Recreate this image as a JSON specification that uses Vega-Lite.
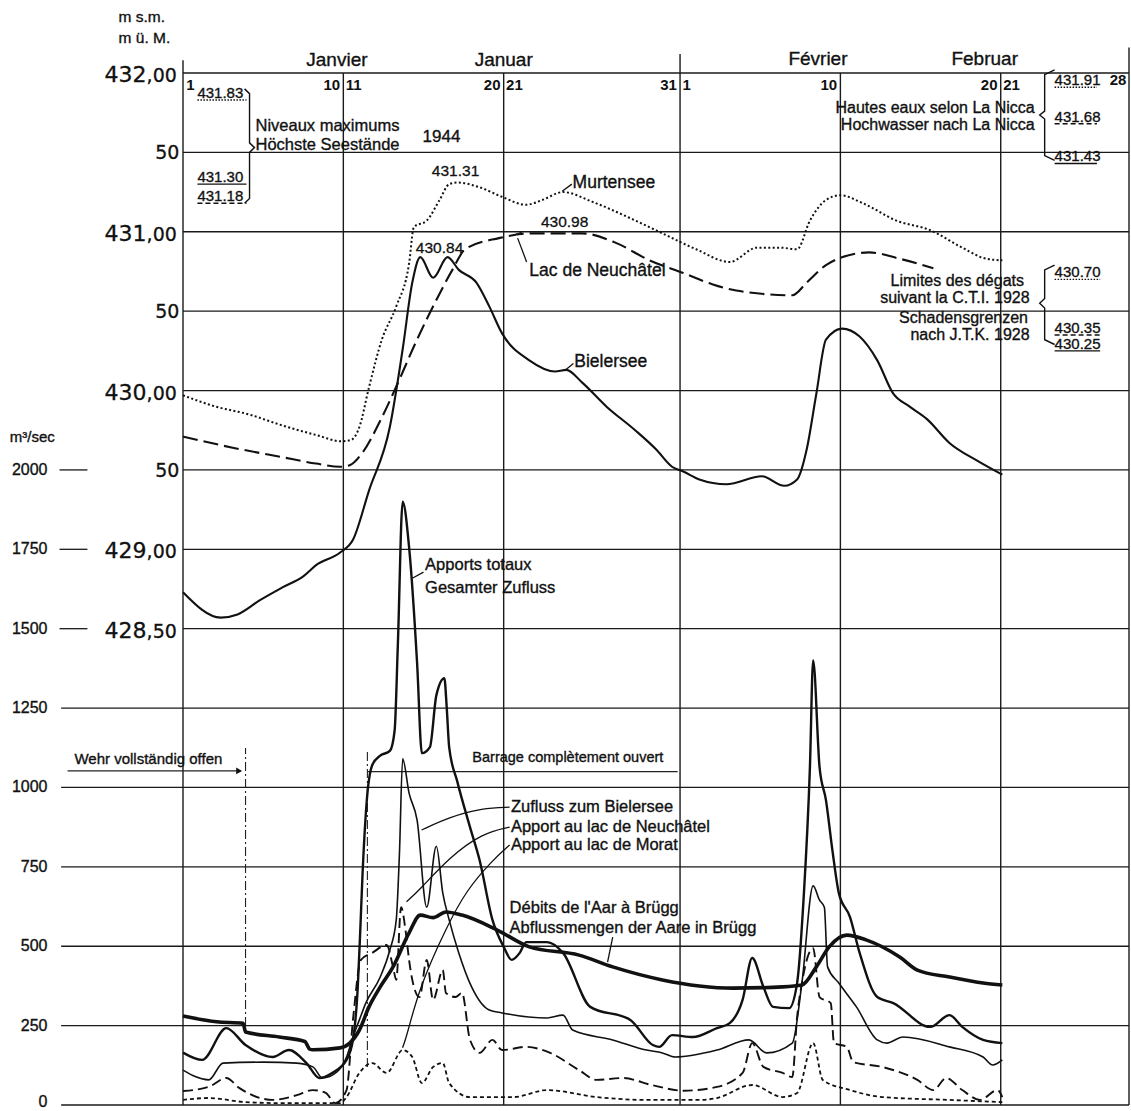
{
"$schema": "https://vega.github.io/schema/vega-lite/v6.json",
"width": 946, "height": 1032,
"autosize": "none",
"padding": {"left": 183, "top": 73, "right": 2, "bottom": 6},
"background": "white",
"config": {"view": {"stroke": null}, "axis": {"grid": false, "domain": false}, "text": {"font": "Liberation Sans", "color": "#111"}},
"datasets": {
"lv": [
{"lake":"mur","day":0,"level":429.97},{"lake":"mur","day":2.0,"level":429.9},{"lake":"mur","day":4.1,"level":429.85},{"lake":"mur","day":6.2,"level":429.78},{"lake":"mur","day":8.3,"level":429.72},{"lake":"mur","day":9.9,"level":429.68},{"lake":"mur","day":10.5,"level":429.69},{"lake":"mur","day":11.0,"level":429.77},{"lake":"mur","day":11.6,"level":430.02},{"lake":"mur","day":12.4,"level":430.32},{"lake":"mur","day":13.3,"level":430.53},{"lake":"mur","day":14.1,"level":430.8},{"lake":"mur","day":14.4,"level":431.03},{"lake":"mur","day":15.2,"level":431.07},{"lake":"mur","day":16.0,"level":431.2},{"lake":"mur","day":16.6,"level":431.3},{"lake":"mur","day":17.1,"level":431.31},{"lake":"mur","day":18.5,"level":431.28},{"lake":"mur","day":19.9,"level":431.22},{"lake":"mur","day":21.4,"level":431.17},{"lake":"mur","day":22.4,"level":431.2},{"lake":"mur","day":23.7,"level":431.25},{"lake":"mur","day":25.5,"level":431.19},{"lake":"mur","day":27.8,"level":431.09},{"lake":"mur","day":29.9,"level":430.99},{"lake":"mur","day":32.0,"level":430.89},{"lake":"mur","day":34.1,"level":430.81},{"lake":"mur","day":35.8,"level":430.9},{"lake":"mur","day":37.2,"level":430.9},{"lake":"mur","day":38.3,"level":430.89},{"lake":"mur","day":39.1,"level":431.07},{"lake":"mur","day":40.1,"level":431.2},{"lake":"mur","day":41.0,"level":431.23},{"lake":"mur","day":42.4,"level":431.18},{"lake":"mur","day":44.5,"level":431.07},{"lake":"mur","day":46.6,"level":431.01},{"lake":"mur","day":48.6,"level":430.9},{"lake":"mur","day":50.1,"level":430.83},{"lake":"mur","day":51.1,"level":430.82},
{"lake":"neu","day":0,"level":429.71},{"lake":"neu","day":3.1,"level":429.64},{"lake":"neu","day":6.2,"level":429.58},{"lake":"neu","day":8.3,"level":429.54},{"lake":"neu","day":9.8,"level":429.52},{"lake":"neu","day":10.4,"level":429.53},{"lake":"neu","day":11.2,"level":429.61},{"lake":"neu","day":12.4,"level":429.83},{"lake":"neu","day":13.5,"level":430.07},{"lake":"neu","day":14.5,"level":430.3},{"lake":"neu","day":15.8,"level":430.57},{"lake":"neu","day":16.8,"level":430.76},{"lake":"neu","day":17.6,"level":430.89},{"lake":"neu","day":19.7,"level":430.96},{"lake":"neu","day":21.8,"level":430.99},{"lake":"neu","day":24.9,"level":430.99},{"lake":"neu","day":27.0,"level":430.93},{"lake":"neu","day":29.1,"level":430.82},{"lake":"neu","day":31.2,"level":430.74},{"lake":"neu","day":33.0,"level":430.67},{"lake":"neu","day":34.5,"level":430.63},{"lake":"neu","day":38.0,"level":430.6},{"lake":"neu","day":38.9,"level":430.68},{"lake":"neu","day":40.1,"level":430.79},{"lake":"neu","day":41.1,"level":430.84},{"lake":"neu","day":42.8,"level":430.87},{"lake":"neu","day":44.7,"level":430.83},{"lake":"neu","day":46.8,"level":430.77},
{"lake":"bie","day":0,"level":428.73},{"lake":"bie","day":2.35,"level":428.57},{"lake":"bie","day":3.4,"level":428.59},{"lake":"bie","day":4.8,"level":428.68},{"lake":"bie","day":6.2,"level":428.76},{"lake":"bie","day":7.5,"level":428.83},{"lake":"bie","day":8.3,"level":428.9},{"lake":"bie","day":9.8,"level":428.98},{"lake":"bie","day":10.6,"level":429.06},{"lake":"bie","day":11.6,"level":429.37},{"lake":"bie","day":12.9,"level":429.77},{"lake":"bie","day":13.7,"level":430.26},{"lake":"bie","day":14.3,"level":430.68},{"lake":"bie","day":14.8,"level":430.84},{"lake":"bie","day":15.6,"level":430.71},{"lake":"bie","day":16.5,"level":430.84},{"lake":"bie","day":17.2,"level":430.76},{"lake":"bie","day":18.3,"level":430.68},{"lake":"bie","day":19.1,"level":430.53},{"lake":"bie","day":19.9,"level":430.36},{"lake":"bie","day":21.6,"level":430.19},{"lake":"bie","day":23.2,"level":430.12},{"lake":"bie","day":23.9,"level":430.13},{"lake":"bie","day":24.9,"level":430.05},{"lake":"bie","day":26.4,"level":429.9},{"lake":"bie","day":28.2,"level":429.75},{"lake":"bie","day":29.5,"level":429.63},{"lake":"bie","day":30.5,"level":429.52},{"lake":"bie","day":31.2,"level":429.49},{"lake":"bie","day":32.2,"level":429.44},{"lake":"bie","day":33.9,"level":429.41},{"lake":"bie","day":36.1,"level":429.46},{"lake":"bie","day":37.5,"level":429.4},{"lake":"bie","day":38.3,"level":429.44},{"lake":"bie","day":38.9,"level":429.63},{"lake":"bie","day":39.5,"level":429.98},{"lake":"bie","day":40.1,"level":430.32},{"lake":"bie","day":41.1,"level":430.39},{"lake":"bie","day":42.2,"level":430.34},{"lake":"bie","day":43.3,"level":430.19},{"lake":"bie","day":44.3,"level":429.98},{"lake":"bie","day":45.3,"level":429.9},{"lake":"bie","day":46.4,"level":429.82},{"lake":"bie","day":47.8,"level":429.67},{"lake":"bie","day":49.5,"level":429.56},{"lake":"bie","day":51.1,"level":429.47}
],
"fl": [
{"s":"aar","day":0,"flow":280},{"s":"aar","day":2.1,"flow":262},{"s":"aar","day":3.75,"flow":257},{"s":"aar","day":3.9,"flow":230},{"s":"aar","day":6.0,"flow":214},{"s":"aar","day":7.6,"flow":200},{"s":"aar","day":7.9,"flow":176},{"s":"aar","day":8.1,"flow":174},{"s":"aar","day":9.8,"flow":180},{"s":"aar","day":10.4,"flow":195},{"s":"aar","day":11.0,"flow":236},{"s":"aar","day":11.6,"flow":309},{"s":"aar","day":12.3,"flow":372},{"s":"aar","day":13.1,"flow":435},{"s":"aar","day":14.1,"flow":542},{"s":"aar","day":14.8,"flow":598},{"s":"aar","day":15.6,"flow":590},{"s":"aar","day":16.4,"flow":608},{"s":"aar","day":17.4,"flow":598},{"s":"aar","day":19.6,"flow":551},{"s":"aar","day":21.6,"flow":498},{"s":"aar","day":24.7,"flow":472},{"s":"aar","day":26.8,"flow":435},{"s":"aar","day":29.9,"flow":394},{"s":"aar","day":32.2,"flow":375},{"s":"aar","day":34.3,"flow":368},{"s":"aar","day":37.4,"flow":372},{"s":"aar","day":38.6,"flow":378},{"s":"aar","day":39.5,"flow":435},{"s":"aar","day":40.3,"flow":498},{"s":"aar","day":41.4,"flow":535},{"s":"aar","day":42.6,"flow":520},{"s":"aar","day":44.7,"flow":466},{"s":"aar","day":45.8,"flow":425},{"s":"aar","day":47.8,"flow":403},{"s":"aar","day":49.9,"flow":384},{"s":"aar","day":51.1,"flow":378},
{"s":"tot","day":0,"flow":165},{"s":"tot","day":1.2,"flow":142},{"s":"tot","day":2.7,"flow":242},{"s":"tot","day":3.9,"flow":189},{"s":"tot","day":5.6,"flow":151},{"s":"tot","day":6.6,"flow":173},{"s":"tot","day":7.7,"flow":132},{"s":"tot","day":8.5,"flow":85},{"s":"tot","day":9.3,"flow":101},{"s":"tot","day":10.2,"flow":142},{"s":"tot","day":10.6,"flow":205},{"s":"tot","day":10.9,"flow":372},{"s":"tot","day":11.05,"flow":542},{"s":"tot","day":11.2,"flow":730},{"s":"tot","day":11.45,"flow":951},{"s":"tot","day":11.8,"flow":1070},{"s":"tot","day":12.3,"flow":1100},{"s":"tot","day":12.9,"flow":1115},{"s":"tot","day":13.2,"flow":1180},{"s":"tot","day":13.4,"flow":1450},{"s":"tot","day":13.7,"flow":1900},{"s":"tot","day":14.1,"flow":1757},{"s":"tot","day":14.6,"flow":1392},{"s":"tot","day":14.9,"flow":1108},{"s":"tot","day":15.4,"flow":1127},{"s":"tot","day":15.8,"flow":1290},{"s":"tot","day":16.3,"flow":1344},{"s":"tot","day":16.45,"flow":1250},{"s":"tot","day":16.6,"flow":1127},{"s":"tot","day":17.1,"flow":1020},{"s":"tot","day":17.9,"flow":875},{"s":"tot","day":18.5,"flow":771},{"s":"tot","day":19.3,"flow":583},{"s":"tot","day":20.0,"flow":498},{"s":"tot","day":20.5,"flow":457},{"s":"tot","day":21.0,"flow":479},{"s":"tot","day":21.4,"flow":513},{"s":"tot","day":22.7,"flow":513},{"s":"tot","day":23.7,"flow":479},{"s":"tot","day":25.4,"flow":309},{"s":"tot","day":27.9,"flow":268},{"s":"tot","day":29.3,"flow":189},{"s":"tot","day":29.7,"flow":183},{"s":"tot","day":30.5,"flow":220},{"s":"tot","day":31.8,"flow":214},{"s":"tot","day":33.3,"flow":242},{"s":"tot","day":34.1,"flow":258},{"s":"tot","day":34.9,"flow":331},{"s":"tot","day":35.5,"flow":463},{"s":"tot","day":36.2,"flow":372},{"s":"tot","day":36.8,"flow":309},{"s":"tot","day":37.8,"flow":305},{"s":"tot","day":38.3,"flow":384},{"s":"tot","day":38.7,"flow":645},{"s":"tot","day":39.1,"flow":1064},{"s":"tot","day":39.3,"flow":1400},{"s":"tot","day":39.7,"flow":1064},{"s":"tot","day":40.1,"flow":960},{"s":"tot","day":40.5,"flow":803},{"s":"tot","day":40.9,"flow":668},{"s":"tot","day":41.6,"flow":592},{"s":"tot","day":42.2,"flow":479},{"s":"tot","day":43.3,"flow":340},{"s":"tot","day":44.3,"flow":321},{"s":"tot","day":46.6,"flow":246},{"s":"tot","day":47.8,"flow":283},{"s":"tot","day":48.6,"flow":246},{"s":"tot","day":49.9,"flow":205},{"s":"tot","day":51.1,"flow":195},
{"s":"bie","day":0,"flow":110},{"s":"bie","day":1.6,"flow":79},{"s":"bie","day":2.5,"flow":132},{"s":"bie","day":5.0,"flow":135},{"s":"bie","day":7.1,"flow":132},{"s":"bie","day":8.1,"flow":120},{"s":"bie","day":8.7,"flow":85},{"s":"bie","day":9.6,"flow":104},{"s":"bie","day":10.2,"flow":151},{"s":"bie","day":10.6,"flow":214},{"s":"bie","day":11.0,"flow":268},{"s":"bie","day":11.4,"flow":321},{"s":"bie","day":12.3,"flow":403},{"s":"bie","day":12.9,"flow":488},{"s":"bie","day":13.3,"flow":583},{"s":"bie","day":13.5,"flow":793},{"s":"bie","day":13.7,"flow":1090},{"s":"bie","day":14.1,"flow":982},{"s":"bie","day":14.6,"flow":897},{"s":"bie","day":15.2,"flow":623},{"s":"bie","day":15.8,"flow":815},{"s":"bie","day":16.2,"flow":668},{"s":"bie","day":16.6,"flow":583},{"s":"bie","day":17.2,"flow":479},{"s":"bie","day":18.0,"flow":372},{"s":"bie","day":19.1,"flow":299},{"s":"bie","day":19.9,"flow":290},{"s":"bie","day":22.7,"flow":274},{"s":"bie","day":23.7,"flow":283},{"s":"bie","day":24.3,"flow":236},{"s":"bie","day":26.8,"flow":205},{"s":"bie","day":28.9,"flow":173},{"s":"bie","day":29.9,"flow":164},{"s":"bie","day":30.7,"flow":151},{"s":"bie","day":33.3,"flow":173},{"s":"bie","day":35.3,"flow":205},{"s":"bie","day":36.4,"flow":164},{"s":"bie","day":38.0,"flow":195},{"s":"bie","day":38.6,"flow":384},{"s":"bie","day":39.3,"flow":690},{"s":"bie","day":39.7,"flow":645},{"s":"bie","day":40.0,"flow":623},{"s":"bie","day":40.2,"flow":435},{"s":"bie","day":40.9,"flow":384},{"s":"bie","day":42.0,"flow":309},{"s":"bie","day":43.3,"flow":205},{"s":"bie","day":43.9,"flow":195},{"s":"bie","day":44.9,"flow":214},{"s":"bie","day":47.8,"flow":183},{"s":"bie","day":49.9,"flow":151},{"s":"bie","day":50.5,"flow":126},{"s":"bie","day":51.1,"flow":142},
{"s":"neu","day":0,"flow":44},{"s":"neu","day":1.6,"flow":57},{"s":"neu","day":2.7,"flow":85},{"s":"neu","day":3.5,"flow":54},{"s":"neu","day":5.6,"flow":16},{"s":"neu","day":7.1,"flow":31},{"s":"neu","day":8.1,"flow":47},{"s":"neu","day":8.9,"flow":38},{"s":"neu","day":9.5,"flow":6},{"s":"neu","day":10.2,"flow":47},{"s":"neu","day":10.6,"flow":268},{"s":"neu","day":11.1,"flow":457},{"s":"neu","day":11.8,"flow":479},{"s":"neu","day":12.7,"flow":504},{"s":"neu","day":13.1,"flow":435},{"s":"neu","day":13.3,"flow":394},{"s":"neu","day":13.6,"flow":623},{"s":"neu","day":13.9,"flow":542},{"s":"neu","day":14.1,"flow":457},{"s":"neu","day":14.3,"flow":394},{"s":"neu","day":14.75,"flow":340},{"s":"neu","day":15.2,"flow":457},{"s":"neu","day":15.6,"flow":331},{"s":"neu","day":16.2,"flow":425},{"s":"neu","day":16.4,"flow":353},{"s":"neu","day":17.0,"flow":340},{"s":"neu","day":17.4,"flow":353},{"s":"neu","day":17.9,"flow":205},{"s":"neu","day":18.5,"flow":164},{"s":"neu","day":19.3,"flow":205},{"s":"neu","day":19.9,"flow":173},{"s":"neu","day":21.4,"flow":183},{"s":"neu","day":22.9,"flow":164},{"s":"neu","day":24.7,"flow":110},{"s":"neu","day":25.8,"flow":79},{"s":"neu","day":27.4,"flow":85},{"s":"neu","day":29.3,"flow":62},{"s":"neu","day":31.2,"flow":45},{"s":"neu","day":33.3,"flow":57},{"s":"neu","day":34.9,"flow":101},{"s":"neu","day":35.5,"flow":195},{"s":"neu","day":36.2,"flow":120},{"s":"neu","day":37.4,"flow":101},{"s":"neu","day":38.0,"flow":88},{"s":"neu","day":38.3,"flow":277},{"s":"neu","day":38.6,"flow":384},{"s":"neu","day":39.3,"flow":494},{"s":"neu","day":39.7,"flow":340},{"s":"neu","day":40.4,"flow":321},{"s":"neu","day":40.6,"flow":195},{"s":"neu","day":41.4,"flow":183},{"s":"neu","day":41.8,"flow":135},{"s":"neu","day":43.6,"flow":120},{"s":"neu","day":45.8,"flow":79},{"s":"neu","day":46.8,"flow":47},{"s":"neu","day":47.6,"flow":85},{"s":"neu","day":48.6,"flow":47},{"s":"neu","day":49.7,"flow":16},{"s":"neu","day":50.8,"flow":47},{"s":"neu","day":51.1,"flow":25},
{"s":"mor","day":0,"flow":16},{"s":"mor","day":1.6,"flow":22},{"s":"mor","day":3.9,"flow":9},{"s":"mor","day":6.0,"flow":6},{"s":"mor","day":9.8,"flow":6},{"s":"mor","day":10.2,"flow":25},{"s":"mor","day":11.0,"flow":101},{"s":"mor","day":11.8,"flow":132},{"s":"mor","day":12.7,"flow":101},{"s":"mor","day":13.7,"flow":173},{"s":"mor","day":14.3,"flow":151},{"s":"mor","day":14.9,"flow":69},{"s":"mor","day":15.6,"flow":120},{"s":"mor","day":16.2,"flow":132},{"s":"mor","day":16.6,"flow":69},{"s":"mor","day":17.9,"flow":25},{"s":"mor","day":20.6,"flow":25},{"s":"mor","day":22.7,"flow":47},{"s":"mor","day":25.8,"flow":25},{"s":"mor","day":28.9,"flow":16},{"s":"mor","day":32.2,"flow":16},{"s":"mor","day":33.3,"flow":22},{"s":"mor","day":35.5,"flow":63},{"s":"mor","day":37.4,"flow":25},{"s":"mor","day":38.3,"flow":38},{"s":"mor","day":39.3,"flow":195},{"s":"mor","day":39.9,"flow":79},{"s":"mor","day":41.6,"flow":47},{"s":"mor","day":43.6,"flow":25},{"s":"mor","day":47.8,"flow":16},{"s":"mor","day":51.1,"flow":9}
],
"gl": [{"flow":1500},{"flow":1750},{"flow":2000},{"flow":2250},{"flow":2500},{"flow":2750},{"flow":3000},{"flow":3250}],
"gf": [{"flow":0,"d1":-7.6,"d2":59},{"flow":250,"d1":-7.6,"d2":59},{"flow":500,"d1":-7.6,"d2":59},{"flow":750,"d1":-7.6,"d2":59},{"flow":1000,"d1":-7.6,"d2":59},{"flow":1250,"d1":-7.6,"d2":59},{"flow":1500,"d1":-7.7,"d2":-5.96},{"flow":1750,"d1":-7.7,"d2":-5.96},{"flow":2000,"d1":-7.7,"d2":-5.96}],
"ylab": [{"flow":0,"day":-8.45},{"flow":250,"day":-8.45},{"flow":500,"day":-8.45},{"flow":750,"day":-8.45},{"flow":1000,"day":-8.45},{"flow":1250,"day":-8.45},{"flow":1500,"day":-8.45},{"flow":1750,"day":-8.45},{"flow":2000,"day":-8.45}],
"vl": [{"day":0,"bot":0,"top":3290},{"day":10,"bot":0,"top":3250},{"day":20,"bot":0,"top":3250},{"day":31,"bot":0,"top":3310},{"day":41,"bot":0,"top":3250},{"day":51,"bot":0,"top":3250},{"day":59,"bot":0,"top":3330}],
"dd": [{"day":3.9,"flow":249,"flow2":1124},{"day":11.5,"flow":120,"flow2":1118}],
"hl": [{"day":-7.2,"day2":3.6,"flow":1052},{"day":11.5,"day2":30.85,"flow":1050}],
"ah": [{"day":3.5,"flow":1052}],
"fld": [
{"a":"t","o":1,"day":15.0,"flow":1678},{"a":"t","o":2,"day":14.3,"flow":1659},
{"a":"z","o":1,"day":20.37,"flow":938},{"a":"z","o":2,"day":18.68,"flow":935},{"a":"z","o":3,"day":16.63,"flow":907},{"a":"z","o":4,"day":14.88,"flow":866},
{"a":"n","o":1,"day":20.37,"flow":875},{"a":"n","o":2,"day":18.68,"flow":856},{"a":"n","o":3,"day":16.63,"flow":781},{"a":"n","o":4,"day":14.75,"flow":677},{"a":"n","o":5,"day":13.94,"flow":640},
{"a":"m","o":1,"day":20.37,"flow":819},{"a":"m","o":2,"day":19.31,"flow":771},{"a":"m","o":3,"day":17.68,"flow":677},{"a":"m","o":4,"day":16.43,"flow":560},{"a":"m","o":5,"day":14.75,"flow":372},{"a":"m","o":6,"day":13.94,"flow":214},{"a":"m","o":7,"day":13.69,"flow":180},
{"a":"d","o":1,"day":26.8,"flow":529},{"a":"d","o":2,"day":26.48,"flow":450}
],
"ft16": [{"t":"Apports totaux","day":15.1,"flow":1700},{"t":"Gesamter Zufluss","day":15.1,"flow":1628},{"t":"Zufluss zum Bielersee","day":20.45,"flow":938},{"t":"Apport au lac de Neuchâtel","day":20.45,"flow":875},{"t":"Apport au lac de Morat","day":20.45,"flow":819},{"t":"Débits de l'Aar à Brügg","day":20.37,"flow":620},{"t":"Abflussmengen der Aare in Brügg","day":20.37,"flow":557}],
"ft15": [{"t":"Wehr vollständig offen","day":-6.77,"flow":1089},{"t":"m³/sec","day":-10.8,"flow":2103}],
"ft15c": [{"t":"Barrage complètement ouvert","day":24.0,"flow":1093}],
"ul": [
{"lake":"mur","day":0.9,"day2":3.96,"level":431.83},{"lake":"bie","day":0.9,"day2":3.96,"level":431.3},{"lake":"neu","day":0.9,"day2":3.96,"level":431.18},
{"lake":"mur","day":54.36,"day2":57.0,"level":431.91},{"lake":"neu","day":54.36,"day2":57.0,"level":431.68},{"lake":"bie","day":54.36,"day2":57.0,"level":431.43},
{"lake":"mur","day":54.36,"day2":57.2,"level":430.7},{"lake":"neu","day":54.36,"day2":57.2,"level":430.35},{"lake":"bie","day":54.36,"day2":57.2,"level":430.25}
],
"refn": [{"t":"431.83","day":0.9,"level":431.875},{"t":"431.30","day":0.9,"level":431.345},{"t":"431.18","day":0.9,"level":431.225},{"t":"431.91","day":54.36,"level":431.955},{"t":"431.68","day":54.36,"level":431.725},{"t":"431.43","day":54.36,"level":431.475},{"t":"430.70","day":54.36,"level":430.745},{"t":"430.35","day":54.36,"level":430.395},{"t":"430.25","day":54.36,"level":430.295}],
"peaks": [{"t":"431.31","day":17.0,"level":431.38},{"t":"430.84","day":16.0,"level":430.9},{"t":"430.98","day":23.8,"level":431.06}],
"br": [
{"b":"l","o":1,"day":3.84,"level":431.9},{"b":"l","o":2,"day":4.15,"level":431.87},{"b":"l","o":3,"day":4.15,"level":431.56},{"b":"l","o":4,"day":4.46,"level":431.53},{"b":"l","o":5,"day":4.15,"level":431.5},{"b":"l","o":6,"day":4.15,"level":431.21},{"b":"l","o":7,"day":3.84,"level":431.18},
{"b":"r1","o":1,"day":54.36,"level":432.02},{"b":"r1","o":2,"day":53.74,"level":431.99},{"b":"r1","o":3,"day":53.74,"level":431.76},{"b":"r1","o":4,"day":53.43,"level":431.735},{"b":"r1","o":5,"day":53.74,"level":431.71},{"b":"r1","o":6,"day":53.74,"level":431.48},{"b":"r1","o":7,"day":54.36,"level":431.45},
{"b":"r2","o":1,"day":54.36,"level":430.79},{"b":"r2","o":2,"day":53.74,"level":430.76},{"b":"r2","o":3,"day":53.74,"level":430.58},{"b":"r2","o":4,"day":53.43,"level":430.55},{"b":"r2","o":5,"day":53.74,"level":430.52},{"b":"r2","o":6,"day":53.74,"level":430.32},{"b":"r2","o":7,"day":54.36,"level":430.29}
],
"ll": [
{"a":"m","o":1,"day":24.25,"level":431.3},{"a":"m","o":2,"day":23.65,"level":431.255},
{"a":"n","o":1,"day":21.43,"level":430.81},{"a":"n","o":2,"day":20.87,"level":430.96},
{"a":"n2","o":1,"day":20.55,"level":430.975},{"a":"n2","o":2,"day":21.18,"level":431.0},
{"a":"b","o":1,"day":24.35,"level":430.17},{"a":"b","o":2,"day":23.85,"level":430.13}
],
"tMain": [{"t":"432","day":-2.27,"level":432},{"t":"431","day":-2.27,"level":431},{"t":"430","day":-2.27,"level":430},{"t":"429","day":-2.27,"level":429},{"t":"428","day":-2.27,"level":428.5}],
"tSuf": [{"t":",00","day":-2.27,"level":432},{"t":",00","day":-2.27,"level":431},{"t":",00","day":-2.27,"level":430},{"t":",00","day":-2.27,"level":429},{"t":",50","day":-2.27,"level":428.5}],
"tFifty": [{"t":"50","day":-0.22,"level":431.5},{"t":"50","day":-0.22,"level":430.5},{"t":"50","day":-0.22,"level":429.5}],
"dayL": [{"t":"1","day":0.2,"level":431.925},{"t":"11","day":10.15,"level":431.925},{"t":"21","day":20.15,"level":431.925},{"t":"1","day":31.15,"level":431.925},{"t":"21","day":51.15,"level":431.925},{"t":"28","day":57.8,"level":431.955}],
"dayR": [{"t":"10","day":9.8,"level":431.925},{"t":"20","day":19.8,"level":431.925},{"t":"31","day":30.8,"level":431.925},{"t":"10","day":40.8,"level":431.925},{"t":"20","day":50.8,"level":431.925}],
"months": [{"t":"Janvier","day":9.6,"level":432.085},{"t":"Januar","day":20.0,"level":432.085},{"t":"Février","day":39.6,"level":432.09},{"t":"Februar","day":50.0,"level":432.09}],
"curveL": [{"t":"Murtensee","day":24.3,"level":431.31},{"t":"Lac de Neuchâtel","day":21.6,"level":430.75},{"t":"Bielersee","day":24.4,"level":430.18}],
"annL": [{"t":"Niveaux maximums","day":4.52,"level":431.665},{"t":"Höchste Seestände","day":4.52,"level":431.545}],
"units": [{"t":"m s.m.","day":-4.02,"level":432.35},{"t":"m ü. M.","day":-4.02,"level":432.22}],
"y1944": [{"t":"1944","day":14.94,"level":431.6}],
"annR": [{"t":"Hautes eaux selon La Nicca","day":53.12,"level":431.78},{"t":"Hochwasser nach La Nicca","day":53.12,"level":431.67}],
"annR2": [{"t":"Limites des dégats","day":52.45,"level":430.69},{"t":"suivant la C.T.I. 1928","day":52.8,"level":430.585},{"t":"Schadensgrenzen","day":52.7,"level":430.46},{"t":"nach J.T.K. 1928","day":52.8,"level":430.35}]
},
"resolve": {"scale": {"y": "independent"}},
"layer": [
{
"layer": [
{"data": {"name": "gl"}, "mark": {"type": "rule", "color": "#1a1a1a", "strokeWidth": 1.3},
 "encoding": {"y": {"field": "flow", "type": "quantitative", "scale": {"domain": [0, 3250], "nice": false, "zero": false}, "axis": null}}},
{"data": {"name": "gf"}, "mark": {"type": "rule", "color": "#1a1a1a", "strokeWidth": 1.3},
 "encoding": {"x": {"field": "d1", "type": "quantitative", "scale": {"domain": [0, 59], "nice": false, "zero": false}, "axis": null}, "x2": {"field": "d2"},
  "y": {"field": "flow", "type": "quantitative", "scale": {"domain": [0, 3250], "nice": false, "zero": false}, "axis": null}}},
{"data": {"name": "ylab"}, "transform": [{"filter": "datum.flow > 0"}], "mark": {"type": "text", "align": "right", "baseline": "middle", "font": "Liberation Sans", "fontSize": 16, "color": "#111", "stroke": "#111", "strokeWidth": 0.35},
 "encoding": {"x": {"field": "day", "type": "quantitative", "scale": {"domain": [0, 59], "nice": false, "zero": false}, "axis": null}, "y": {"field": "flow", "type": "quantitative", "scale": {"domain": [0, 3250], "nice": false, "zero": false}, "axis": null}, "text": {"field": "flow", "type": "quantitative", "format": "d"}}},
{"data": {"name": "ylab"}, "transform": [{"filter": "datum.flow === 0"}], "mark": {"type": "text", "align": "right", "baseline": "bottom", "dy": 5, "font": "Liberation Sans", "fontSize": 16, "color": "#111", "stroke": "#111", "strokeWidth": 0.35},
 "encoding": {"x": {"field": "day", "type": "quantitative", "scale": {"domain": [0, 59], "nice": false, "zero": false}, "axis": null}, "y": {"field": "flow", "type": "quantitative", "scale": {"domain": [0, 3250], "nice": false, "zero": false}, "axis": null}, "text": {"field": "flow", "type": "quantitative", "format": "d"}}},
{"data": {"name": "vl"}, "mark": {"type": "rule", "color": "#1a1a1a", "strokeWidth": 1.4},
 "encoding": {"x": {"field": "day", "type": "quantitative", "scale": {"domain": [0, 59], "nice": false, "zero": false}, "axis": null}, "y": {"field": "bot", "type": "quantitative", "scale": {"domain": [0, 3250], "nice": false, "zero": false}, "axis": null}, "y2": {"field": "top"}}},
{"data": {"name": "dd"}, "mark": {"type": "rule", "color": "#222", "strokeWidth": 1.1, "strokeDash": [9, 3, 2, 3]},
 "encoding": {"x": {"field": "day", "type": "quantitative", "scale": {"domain": [0, 59], "nice": false, "zero": false}, "axis": null}, "y": {"field": "flow", "type": "quantitative", "scale": {"domain": [0, 3250], "nice": false, "zero": false}, "axis": null}, "y2": {"field": "flow2"}}},
{"data": {"name": "hl"}, "mark": {"type": "rule", "color": "#222", "strokeWidth": 1.2},
 "encoding": {"x": {"field": "day", "type": "quantitative", "scale": {"domain": [0, 59], "nice": false, "zero": false}, "axis": null}, "x2": {"field": "day2"}, "y": {"field": "flow", "type": "quantitative", "scale": {"domain": [0, 3250], "nice": false, "zero": false}, "axis": null}}},
{"data": {"name": "ah"}, "mark": {"type": "point", "shape": "triangle-right", "filled": true, "color": "#111", "size": 45, "opacity": 1},
 "encoding": {"x": {"field": "day", "type": "quantitative", "scale": {"domain": [0, 59], "nice": false, "zero": false}, "axis": null}, "y": {"field": "flow", "type": "quantitative", "scale": {"domain": [0, 3250], "nice": false, "zero": false}, "axis": null}}},
{"data": {"name": "fl"}, "transform": [{"filter": "datum.s === 'mor'"}], "mark": {"type": "line", "interpolate": "monotone", "color": "#111", "strokeWidth": 1.8, "strokeDash": [4, 3]},
 "encoding": {"x": {"field": "day", "type": "quantitative", "scale": {"domain": [0, 59], "nice": false, "zero": false}, "axis": null}, "y": {"field": "flow", "type": "quantitative", "scale": {"domain": [0, 3250], "nice": false, "zero": false}, "axis": null}}},
{"data": {"name": "fl"}, "transform": [{"filter": "datum.s === 'neu'"}], "mark": {"type": "line", "interpolate": "monotone", "color": "#111", "strokeWidth": 1.9, "strokeDash": [10, 5]},
 "encoding": {"x": {"field": "day", "type": "quantitative", "scale": {"domain": [0, 59], "nice": false, "zero": false}, "axis": null}, "y": {"field": "flow", "type": "quantitative", "scale": {"domain": [0, 3250], "nice": false, "zero": false}, "axis": null}}},
{"data": {"name": "fl"}, "transform": [{"filter": "datum.s === 'bie'"}], "mark": {"type": "line", "interpolate": "monotone", "color": "#111", "strokeWidth": 1.6},
 "encoding": {"x": {"field": "day", "type": "quantitative", "scale": {"domain": [0, 59], "nice": false, "zero": false}, "axis": null}, "y": {"field": "flow", "type": "quantitative", "scale": {"domain": [0, 3250], "nice": false, "zero": false}, "axis": null}}},
{"data": {"name": "fl"}, "transform": [{"filter": "datum.s === 'tot'"}], "mark": {"type": "line", "interpolate": "monotone", "color": "#111", "strokeWidth": 2.4},
 "encoding": {"x": {"field": "day", "type": "quantitative", "scale": {"domain": [0, 59], "nice": false, "zero": false}, "axis": null}, "y": {"field": "flow", "type": "quantitative", "scale": {"domain": [0, 3250], "nice": false, "zero": false}, "axis": null}}},
{"data": {"name": "fl"}, "transform": [{"filter": "datum.s === 'aar'"}], "mark": {"type": "line", "interpolate": "monotone", "color": "#111", "strokeWidth": 3.6},
 "encoding": {"x": {"field": "day", "type": "quantitative", "scale": {"domain": [0, 59], "nice": false, "zero": false}, "axis": null}, "y": {"field": "flow", "type": "quantitative", "scale": {"domain": [0, 3250], "nice": false, "zero": false}, "axis": null}}},
{"data": {"name": "fld"}, "mark": {"type": "line", "interpolate": "basis", "color": "#111", "strokeWidth": 1.3},
 "encoding": {"x": {"field": "day", "type": "quantitative", "scale": {"domain": [0, 59], "nice": false, "zero": false}, "axis": null}, "y": {"field": "flow", "type": "quantitative", "scale": {"domain": [0, 3250], "nice": false, "zero": false}, "axis": null}, "detail": {"field": "a", "type": "nominal"}, "order": {"field": "o", "type": "quantitative"}}},
{"data": {"name": "ft16"}, "mark": {"type": "text", "align": "left", "baseline": "middle", "font": "Liberation Sans", "fontSize": 16.5, "color": "#111", "stroke": "#111", "strokeWidth": 0.35},
 "encoding": {"x": {"field": "day", "type": "quantitative", "scale": {"domain": [0, 59], "nice": false, "zero": false}, "axis": null}, "y": {"field": "flow", "type": "quantitative", "scale": {"domain": [0, 3250], "nice": false, "zero": false}, "axis": null}, "text": {"field": "t", "type": "nominal"}}},
{"data": {"name": "ft15"}, "mark": {"type": "text", "align": "left", "baseline": "middle", "font": "Liberation Sans", "fontSize": 15, "color": "#111", "stroke": "#111", "strokeWidth": 0.35},
 "encoding": {"x": {"field": "day", "type": "quantitative", "scale": {"domain": [0, 59], "nice": false, "zero": false}, "axis": null}, "y": {"field": "flow", "type": "quantitative", "scale": {"domain": [0, 3250], "nice": false, "zero": false}, "axis": null}, "text": {"field": "t", "type": "nominal"}}},
{"data": {"name": "ft15c"}, "mark": {"type": "text", "align": "center", "baseline": "middle", "font": "Liberation Sans", "fontSize": 14.5, "color": "#111", "stroke": "#111", "strokeWidth": 0.35},
 "encoding": {"x": {"field": "day", "type": "quantitative", "scale": {"domain": [0, 59], "nice": false, "zero": false}, "axis": null}, "y": {"field": "flow", "type": "quantitative", "scale": {"domain": [0, 3250], "nice": false, "zero": false}, "axis": null}, "text": {"field": "t", "type": "nominal"}}}
]
},
{
"layer": [
{"data": {"name": "lv"}, "transform": [{"filter": "datum.lake === 'mur'"}], "mark": {"type": "line", "interpolate": "monotone", "color": "#111", "strokeWidth": 2, "strokeDash": [2, 2.4]},
 "encoding": {"x": {"field": "day", "type": "quantitative", "scale": {"domain": [0, 59], "nice": false, "zero": false}, "axis": null}, "y": {"field": "level", "type": "quantitative", "scale": {"domain": [425.5, 432], "nice": false, "zero": false}, "axis": null}}},
{"data": {"name": "lv"}, "transform": [{"filter": "datum.lake === 'neu'"}], "mark": {"type": "line", "interpolate": "monotone", "color": "#111", "strokeWidth": 2.1, "strokeDash": [15, 6]},
 "encoding": {"x": {"field": "day", "type": "quantitative", "scale": {"domain": [0, 59], "nice": false, "zero": false}, "axis": null}, "y": {"field": "level", "type": "quantitative", "scale": {"domain": [425.5, 432], "nice": false, "zero": false}, "axis": null}}},
{"data": {"name": "lv"}, "transform": [{"filter": "datum.lake === 'bie'"}], "mark": {"type": "line", "interpolate": "monotone", "color": "#111", "strokeWidth": 2.1},
 "encoding": {"x": {"field": "day", "type": "quantitative", "scale": {"domain": [0, 59], "nice": false, "zero": false}, "axis": null}, "y": {"field": "level", "type": "quantitative", "scale": {"domain": [425.5, 432], "nice": false, "zero": false}, "axis": null}}},
{"data": {"name": "ul"}, "transform": [{"filter": "datum.lake === 'mur'"}], "mark": {"type": "rule", "color": "#111", "strokeWidth": 1.4, "strokeDash": [1.5, 1.5]},
 "encoding": {"x": {"field": "day", "type": "quantitative", "scale": {"domain": [0, 59], "nice": false, "zero": false}, "axis": null}, "x2": {"field": "day2"}, "y": {"field": "level", "type": "quantitative", "scale": {"domain": [425.5, 432], "nice": false, "zero": false}, "axis": null}}},
{"data": {"name": "ul"}, "transform": [{"filter": "datum.lake === 'neu'"}], "mark": {"type": "rule", "color": "#111", "strokeWidth": 1.4, "strokeDash": [5, 3]},
 "encoding": {"x": {"field": "day", "type": "quantitative", "scale": {"domain": [0, 59], "nice": false, "zero": false}, "axis": null}, "x2": {"field": "day2"}, "y": {"field": "level", "type": "quantitative", "scale": {"domain": [425.5, 432], "nice": false, "zero": false}, "axis": null}}},
{"data": {"name": "ul"}, "transform": [{"filter": "datum.lake === 'bie'"}], "mark": {"type": "rule", "color": "#111", "strokeWidth": 1.4},
 "encoding": {"x": {"field": "day", "type": "quantitative", "scale": {"domain": [0, 59], "nice": false, "zero": false}, "axis": null}, "x2": {"field": "day2"}, "y": {"field": "level", "type": "quantitative", "scale": {"domain": [425.5, 432], "nice": false, "zero": false}, "axis": null}}},
{"data": {"name": "br"}, "mark": {"type": "line", "interpolate": "linear", "color": "#111", "strokeWidth": 1.4},
 "encoding": {"x": {"field": "day", "type": "quantitative", "scale": {"domain": [0, 59], "nice": false, "zero": false}, "axis": null}, "y": {"field": "level", "type": "quantitative", "scale": {"domain": [425.5, 432], "nice": false, "zero": false}, "axis": null}, "detail": {"field": "b", "type": "nominal"}, "order": {"field": "o", "type": "quantitative"}}},
{"data": {"name": "ll"}, "mark": {"type": "line", "interpolate": "linear", "color": "#111", "strokeWidth": 1.3},
 "encoding": {"x": {"field": "day", "type": "quantitative", "scale": {"domain": [0, 59], "nice": false, "zero": false}, "axis": null}, "y": {"field": "level", "type": "quantitative", "scale": {"domain": [425.5, 432], "nice": false, "zero": false}, "axis": null}, "detail": {"field": "a", "type": "nominal"}, "order": {"field": "o", "type": "quantitative"}}},
{"data": {"name": "tMain"}, "mark": {"type": "text", "align": "right", "baseline": "alphabetic", "dy": 9, "font": "DejaVu Sans", "fontSize": 22, "color": "#111", "stroke": "#111", "strokeWidth": 0.3},
 "encoding": {"x": {"field": "day", "type": "quantitative", "scale": {"domain": [0, 59], "nice": false, "zero": false}, "axis": null}, "y": {"field": "level", "type": "quantitative", "scale": {"domain": [425.5, 432], "nice": false, "zero": false}, "axis": null}, "text": {"field": "t", "type": "nominal"}}},
{"data": {"name": "tSuf"}, "mark": {"type": "text", "align": "left", "baseline": "alphabetic", "dy": 9, "font": "DejaVu Sans", "fontSize": 19, "color": "#111", "stroke": "#111", "strokeWidth": 0.3},
 "encoding": {"x": {"field": "day", "type": "quantitative", "scale": {"domain": [0, 59], "nice": false, "zero": false}, "axis": null}, "y": {"field": "level", "type": "quantitative", "scale": {"domain": [425.5, 432], "nice": false, "zero": false}, "axis": null}, "text": {"field": "t", "type": "nominal"}}},
{"data": {"name": "tFifty"}, "mark": {"type": "text", "align": "right", "baseline": "alphabetic", "dy": 7, "font": "DejaVu Sans", "fontSize": 19, "color": "#111", "stroke": "#111", "strokeWidth": 0.3},
 "encoding": {"x": {"field": "day", "type": "quantitative", "scale": {"domain": [0, 59], "nice": false, "zero": false}, "axis": null}, "y": {"field": "level", "type": "quantitative", "scale": {"domain": [425.5, 432], "nice": false, "zero": false}, "axis": null}, "text": {"field": "t", "type": "nominal"}}},
{"data": {"name": "dayL"}, "mark": {"type": "text", "align": "left", "baseline": "middle", "font": "Liberation Sans", "fontSize": 15, "fontWeight": "bold", "color": "#111"},
 "encoding": {"x": {"field": "day", "type": "quantitative", "scale": {"domain": [0, 59], "nice": false, "zero": false}, "axis": null}, "y": {"field": "level", "type": "quantitative", "scale": {"domain": [425.5, 432], "nice": false, "zero": false}, "axis": null}, "text": {"field": "t", "type": "nominal"}}},
{"data": {"name": "dayR"}, "mark": {"type": "text", "align": "right", "baseline": "middle", "font": "Liberation Sans", "fontSize": 15, "fontWeight": "bold", "color": "#111"},
 "encoding": {"x": {"field": "day", "type": "quantitative", "scale": {"domain": [0, 59], "nice": false, "zero": false}, "axis": null}, "y": {"field": "level", "type": "quantitative", "scale": {"domain": [425.5, 432], "nice": false, "zero": false}, "axis": null}, "text": {"field": "t", "type": "nominal"}}},
{"data": {"name": "months"}, "mark": {"type": "text", "align": "center", "baseline": "middle", "font": "Liberation Sans", "fontSize": 19, "color": "#111", "stroke": "#111", "strokeWidth": 0.35},
 "encoding": {"x": {"field": "day", "type": "quantitative", "scale": {"domain": [0, 59], "nice": false, "zero": false}, "axis": null}, "y": {"field": "level", "type": "quantitative", "scale": {"domain": [425.5, 432], "nice": false, "zero": false}, "axis": null}, "text": {"field": "t", "type": "nominal"}}},
{"data": {"name": "curveL"}, "mark": {"type": "text", "align": "left", "baseline": "middle", "font": "Liberation Sans", "fontSize": 17.5, "color": "#111", "stroke": "#111", "strokeWidth": 0.35},
 "encoding": {"x": {"field": "day", "type": "quantitative", "scale": {"domain": [0, 59], "nice": false, "zero": false}, "axis": null}, "y": {"field": "level", "type": "quantitative", "scale": {"domain": [425.5, 432], "nice": false, "zero": false}, "axis": null}, "text": {"field": "t", "type": "nominal"}}},
{"data": {"name": "peaks"}, "mark": {"type": "text", "align": "center", "baseline": "middle", "font": "Liberation Sans", "fontSize": 15.5, "color": "#111", "stroke": "#111", "strokeWidth": 0.3},
 "encoding": {"x": {"field": "day", "type": "quantitative", "scale": {"domain": [0, 59], "nice": false, "zero": false}, "axis": null}, "y": {"field": "level", "type": "quantitative", "scale": {"domain": [425.5, 432], "nice": false, "zero": false}, "axis": null}, "text": {"field": "t", "type": "nominal"}}},
{"data": {"name": "refn"}, "mark": {"type": "text", "align": "left", "baseline": "middle", "font": "Liberation Sans", "fontSize": 15, "color": "#111", "stroke": "#111", "strokeWidth": 0.35},
 "encoding": {"x": {"field": "day", "type": "quantitative", "scale": {"domain": [0, 59], "nice": false, "zero": false}, "axis": null}, "y": {"field": "level", "type": "quantitative", "scale": {"domain": [425.5, 432], "nice": false, "zero": false}, "axis": null}, "text": {"field": "t", "type": "nominal"}}},
{"data": {"name": "annL"}, "mark": {"type": "text", "align": "left", "baseline": "middle", "font": "Liberation Sans", "fontSize": 16.5, "color": "#111", "stroke": "#111", "strokeWidth": 0.35},
 "encoding": {"x": {"field": "day", "type": "quantitative", "scale": {"domain": [0, 59], "nice": false, "zero": false}, "axis": null}, "y": {"field": "level", "type": "quantitative", "scale": {"domain": [425.5, 432], "nice": false, "zero": false}, "axis": null}, "text": {"field": "t", "type": "nominal"}}},
{"data": {"name": "units"}, "mark": {"type": "text", "align": "left", "baseline": "middle", "font": "Liberation Sans", "fontSize": 15.5, "color": "#111", "stroke": "#111", "strokeWidth": 0.35},
 "encoding": {"x": {"field": "day", "type": "quantitative", "scale": {"domain": [0, 59], "nice": false, "zero": false}, "axis": null}, "y": {"field": "level", "type": "quantitative", "scale": {"domain": [425.5, 432], "nice": false, "zero": false}, "axis": null}, "text": {"field": "t", "type": "nominal"}}},
{"data": {"name": "y1944"}, "mark": {"type": "text", "align": "left", "baseline": "middle", "font": "Liberation Sans", "fontSize": 17, "color": "#111", "stroke": "#111", "strokeWidth": 0.35},
 "encoding": {"x": {"field": "day", "type": "quantitative", "scale": {"domain": [0, 59], "nice": false, "zero": false}, "axis": null}, "y": {"field": "level", "type": "quantitative", "scale": {"domain": [425.5, 432], "nice": false, "zero": false}, "axis": null}, "text": {"field": "t", "type": "nominal"}}},
{"data": {"name": "annR"}, "mark": {"type": "text", "align": "right", "baseline": "middle", "font": "Liberation Sans", "fontSize": 16, "color": "#111", "stroke": "#111", "strokeWidth": 0.35},
 "encoding": {"x": {"field": "day", "type": "quantitative", "scale": {"domain": [0, 59], "nice": false, "zero": false}, "axis": null}, "y": {"field": "level", "type": "quantitative", "scale": {"domain": [425.5, 432], "nice": false, "zero": false}, "axis": null}, "text": {"field": "t", "type": "nominal"}}},
{"data": {"name": "annR2"}, "mark": {"type": "text", "align": "right", "baseline": "middle", "font": "Liberation Sans", "fontSize": 16, "color": "#111", "stroke": "#111", "strokeWidth": 0.35},
 "encoding": {"x": {"field": "day", "type": "quantitative", "scale": {"domain": [0, 59], "nice": false, "zero": false}, "axis": null}, "y": {"field": "level", "type": "quantitative", "scale": {"domain": [425.5, 432], "nice": false, "zero": false}, "axis": null}, "text": {"field": "t", "type": "nominal"}}}
]
}
]
}
